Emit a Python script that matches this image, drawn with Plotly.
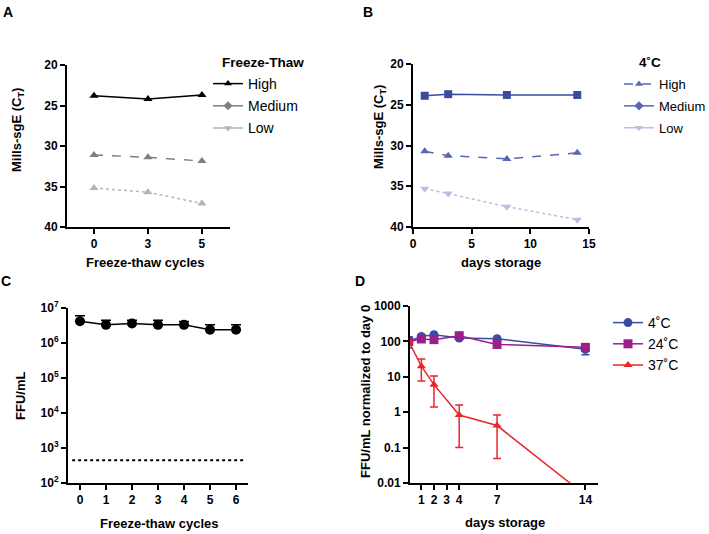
import plotly.graph_objects as go

# ---------------- data ----------------
A_cycles = ["0", "3", "5"]
A_high = [23.8, 24.2, 23.7]
A_medium = [31.1, 31.4, 31.85]
A_low = [35.2, 35.7, 37.1]

B_days = [1, 3, 8, 14]
B_high = [23.9, 23.7, 23.8, 23.8]
B_medium = [30.7, 31.25, 31.65, 30.9]
B_low = [35.3, 35.9, 37.5, 39.1]

C_cycles = [0, 1, 2, 3, 4, 5, 6]
C_ffu = [4.2e6, 3.3e6, 3.6e6, 3.3e6, 3.3e6, 2.4e6, 2.4e6]
C_upper = [6.0e6, 4.5e6, 4.5e6, 4.5e6, 4.1e6, 3.3e6, 3.3e6]
C_lod = 450

D_days = [0, 1, 2, 4, 7, 14]
D_4C = [100, 138, 155, 125, 119, 60]
D_4C_hi = [135, 138, 155, 125, 119, 80]
D_4C_lo = [65, 138, 155, 125, 119, 42]
D_24C = [100, 117, 112, 145, 82, 68]
D_37C = [100, 20, 6.0, 0.83, 0.42, 0.0045]
D_37C_hi = [100, 32, 10.5, 1.6, 0.83, 0.0045]
D_37C_lo = [100, 7.6, 1.4, 0.10, 0.049, 0.0045]

FONT = "Liberation Sans, Arial, sans-serif"
BLUE = "#3b4ca0"
BLUE_MED = "#5767b3"
BLUE_LIGHT = "#b9bee3"
PURPLE = "#9a1f8d"
RED = "#e8262b"

fig = go.Figure()

# ---------------- Panel A ----------------
fig.add_trace(go.Scatter(x=A_cycles, y=A_high, mode="lines+markers", xaxis="x", yaxis="y",
                         line=dict(color="black", width=1.5), marker=dict(symbol="triangle-up", size=8, color="black"),
                         showlegend=False))
fig.add_trace(go.Scatter(x=A_cycles, y=A_medium, mode="lines+markers", xaxis="x", yaxis="y",
                         line=dict(color="#7f7f7f", width=1.5, dash="dash"),
                         marker=dict(symbol="triangle-up", size=8, color="#7f7f7f"), showlegend=False))
fig.add_trace(go.Scatter(x=A_cycles, y=A_low, mode="lines+markers", xaxis="x", yaxis="y",
                         line=dict(color="#b5b5b5", width=1.5, dash="dot"),
                         marker=dict(symbol="triangle-up", size=8, color="#b5b5b5"), showlegend=False))
for name, col, sym, dash in [("High", "black", "triangle-up", "solid"),
                             ("Medium", "#7f7f7f", "diamond", "solid"),
                             ("Low", "#b5b5b5", "triangle-down", "solid")]:
    fig.add_trace(go.Scatter(x=[None], y=[None], mode="lines+markers", name=name, legend="legend",
                             legendgroup="A" + name, xaxis="x", yaxis="y",
                             line=dict(color=col, width=1.5, dash=dash), marker=dict(symbol=sym, size=7, color=col)))

# ---------------- Panel B ----------------
fig.add_trace(go.Scatter(x=B_days, y=B_high, mode="lines+markers", xaxis="x2", yaxis="y2",
                         line=dict(color=BLUE, width=1.5), marker=dict(symbol="square", size=8, color=BLUE),
                         showlegend=False))
fig.add_trace(go.Scatter(x=B_days, y=B_medium, mode="lines+markers", xaxis="x2", yaxis="y2",
                         line=dict(color=BLUE_MED, width=1.5, dash="dash"),
                         marker=dict(symbol="triangle-up", size=8, color=BLUE_MED), showlegend=False))
fig.add_trace(go.Scatter(x=B_days, y=B_low, mode="lines+markers", xaxis="x2", yaxis="y2",
                         line=dict(color=BLUE_LIGHT, width=1.5, dash="dot"),
                         marker=dict(symbol="triangle-down", size=8, color=BLUE_LIGHT), showlegend=False))
for name, col, sym, dash in [("High", BLUE_MED, "triangle-up", "dash"),
                             ("Medium", BLUE_MED, "diamond", "solid"),
                             ("Low", BLUE_LIGHT, "triangle-down", "solid")]:
    fig.add_trace(go.Scatter(x=[None], y=[None], mode="lines+markers", name=name, legend="legend2",
                             legendgroup="B" + name, xaxis="x2", yaxis="y2",
                             line=dict(color=col, width=1.5, dash=dash), marker=dict(symbol=sym, size=7, color=col)))

# ---------------- Panel C ----------------
fig.add_trace(go.Scatter(x=C_cycles, y=C_ffu, mode="lines+markers", xaxis="x3", yaxis="y3",
                         line=dict(color="black", width=1.5), marker=dict(symbol="circle", size=10, color="black"),
                         error_y=dict(type="data", symmetric=False,
                                      array=[u - v for u, v in zip(C_upper, C_ffu)],
                                      arrayminus=[0] * len(C_ffu), color="black", thickness=1.5, width=5),
                         showlegend=False))
fig.add_trace(go.Scatter(x=[min(C_cycles) - 0.3, max(C_cycles) + 0.3], y=[C_lod, C_lod], mode="lines",
                         xaxis="x3", yaxis="y3", line=dict(color="black", width=2, dash="dot"), showlegend=False))

# ---------------- Panel D ----------------
def err(vals, hi, lo):
    return dict(type="data", symmetric=False,
                array=[h - v for h, v in zip(hi, vals)],
                arrayminus=[v - l for v, l in zip(vals, lo)], thickness=1.5, width=4)

e4 = err(D_4C, D_4C_hi, D_4C_lo); e4["color"] = BLUE
e37 = err(D_37C, D_37C_hi, D_37C_lo); e37["color"] = RED
fig.add_trace(go.Scatter(x=D_days, y=D_4C, mode="lines+markers", name="4˚C", legend="legend3",
                         xaxis="x4", yaxis="y4", line=dict(color=BLUE, width=1.5),
                         marker=dict(symbol="circle", size=9, color=BLUE), error_y=e4))
fig.add_trace(go.Scatter(x=D_days, y=D_24C, mode="lines+markers", name="24˚C", legend="legend3",
                         xaxis="x4", yaxis="y4", line=dict(color=PURPLE, width=1.5),
                         marker=dict(symbol="square", size=9, color=PURPLE)))
fig.add_trace(go.Scatter(x=D_days, y=D_37C, mode="lines+markers", name="37˚C", legend="legend3",
                         xaxis="x4", yaxis="y4", line=dict(color=RED, width=1.5),
                         marker=dict(symbol="triangle-up", size=8, color=RED), error_y=e37))

W, H = 709, 534
def dx(a, b):
    return [a / W, b / W]
def dy(top, bottom):
    return [1 - bottom / H, 1 - top / H]

axis_common = dict(showline=True, linewidth=2, linecolor="black", ticks="outside", ticklen=5, tickwidth=2,
                   tickcolor="black", showgrid=False, zeroline=False, automargin=False,
                   tickfont=dict(family=FONT, size=12, color="black", weight="bold"))

fig.update_layout(
    width=W, height=H, margin=dict(l=0, r=0, t=0, b=0, autoexpand=False),
    paper_bgcolor="white", plot_bgcolor="white",
    font=dict(family=FONT, color="black"),
    xaxis=dict(domain=dx(67, 230), type="category", range=[-0.5, 2.52], anchor="y", **axis_common),
    yaxis=dict(domain=dy(65, 227), range=[40, 20], tickvals=[20, 25, 30, 35, 40], anchor="x", **axis_common),
    xaxis2=dict(domain=dx(413, 589), range=[0, 15], tickvals=[0, 5, 10, 15], anchor="y2", **axis_common),
    yaxis2=dict(domain=dy(64, 227), range=[40, 20], tickvals=[20, 25, 30, 35, 40], anchor="x2", **axis_common),
    xaxis3=dict(domain=dx(68, 248), range=[-0.46, 6.46], tickvals=C_cycles, anchor="y3", **axis_common),
    yaxis3=dict(domain=dy(308, 483), type="log", range=[2, 7], anchor="x3",
                tickvals=[1e2, 1e3, 1e4, 1e5, 1e6, 1e7],
                ticktext=["10<sup>2</sup>", "10<sup>3</sup>", "10<sup>4</sup>", "10<sup>5</sup>",
                          "10<sup>6</sup>", "10<sup>7</sup>"], **axis_common),
    xaxis4=dict(domain=dx(410, 598), range=[0.1, 15], tickvals=[1, 2, 3, 4, 7, 14], anchor="y4", **axis_common),
    yaxis4=dict(domain=dy(306, 483), type="log", range=[-2, 3], anchor="x4",
                tickvals=[0.01, 0.1, 1, 10, 100, 1000], ticktext=["0.01", "0.1", "1", "10", "100", "1000"],
                **axis_common),
    legend=dict(x=208 / W, y=1 - 68 / H, xanchor="left", yanchor="top", bgcolor="rgba(0,0,0,0)",
                font=dict(family=FONT, size=14), tracegroupgap=1),
    legend2=dict(x=619 / W, y=1 - 69 / H, xanchor="left", yanchor="top", bgcolor="rgba(0,0,0,0)",
                 font=dict(family=FONT, size=13), tracegroupgap=2),
    legend3=dict(x=608 / W, y=1 - 307 / H, xanchor="left", yanchor="top", bgcolor="rgba(0,0,0,0)",
                 font=dict(family=FONT, size=14)),
)

annots = [
    dict(text="<b>A</b>", x=8, y=12, size=14),
    dict(text="<b>B</b>", x=368, y=12, size=14),
    dict(text="<b>C</b>", x=6, y=281, size=14),
    dict(text="<b>D</b>", x=360, y=281, size=14),
    dict(text="<b>Freeze-thaw cycles</b>", x=145, y=262, size=13),
    dict(text="<b>days storage</b>", x=501, y=262, size=13),
    dict(text="<b>Freeze-thaw cycles</b>", x=159, y=523, size=13),
    dict(text="<b>days storage</b>", x=505, y=522, size=13),
    dict(text="<b>Mills-sgE (C<sub>T</sub>)</b>", x=17, y=130, size=13, angle=-90),
    dict(text="<b>Mills-sgE (C<sub>T</sub>)</b>", x=379, y=127, size=13, angle=-90),
    dict(text="<b>FFU/mL</b>", x=20, y=396, size=13, angle=-90),
    dict(text="<b>FFU/mL normalized to day 0</b>", x=365, y=392, size=13, angle=-90),
]
for a in annots:
    fig.add_annotation(text=a["text"], xref="paper", yref="paper", x=a["x"] / W, y=1 - a["y"] / H,
                       xanchor="center", yanchor="middle", showarrow=False, textangle=a.get("angle", 0),
                       font=dict(family=FONT, size=a["size"], color="black"))
# legend titles
fig.add_annotation(text="<b>Freeze-Thaw</b>", xref="paper", yref="paper", x=220 / W, y=1 - 63 / H,
                   xanchor="left", yanchor="middle", showarrow=False, font=dict(family=FONT, size=13.5, color="black"))
fig.add_annotation(text="<b>4˚C</b>", xref="paper", yref="paper", x=637 / W, y=1 - 63 / H,
                   xanchor="left", yanchor="middle", showarrow=False, font=dict(family=FONT, size=13.5, color="black"))

fig.write_html("out.html", config={"displayModeBar": False},
               post_script="document.body.style.margin='0';document.body.style.overflow='hidden';")
